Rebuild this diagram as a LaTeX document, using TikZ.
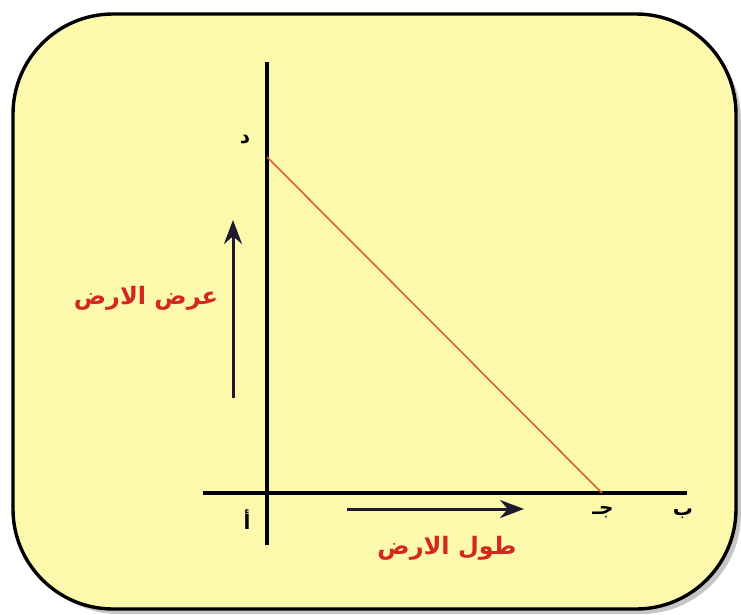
\documentclass[tikz,border=0pt]{standalone}
\usepackage{fontspec}
\usetikzlibrary{arrows.meta}
\newfontfamily\arabicfont[Script=Arabic]{DejaVu Sans}
\TeXXeTstate=1
\definecolor{boxfill}{RGB}{253,249,172}
\definecolor{lblred}{RGB}{212,40,30}
\definecolor{hyp}{RGB}{214,98,48}
\definecolor{arrowcol}{RGB}{30,25,45}
\tikzset{
  axis/.style={line width=3.4pt, black},
  hypline/.style={line width=1.6pt, hyp},
  dimarrow/.style={line width=3pt, arrowcol, -{Stealth[length=24pt,width=18pt]}},
  redlbl/.style={text=lblred, font=\arabicfont\bfseries\fontsize{24}{28}\selectfont, inner sep=0pt},
  ptlbl/.style={text=black, font=\arabicfont\bfseries\fontsize{20}{24}\selectfont, inner sep=0pt}
}
\begin{document}
\begin{tikzpicture}[x=1pt,y=-1pt]
\useasboundingbox (0,0) rectangle (741,614);
% shadow
\fill[gray!45, rounded corners=100pt] (19,20) rectangle (741,614);
% panel
\draw[line width=3.4pt, fill=boxfill, rounded corners=100pt] (13,14) rectangle (736,609);
% axes
\coordinate (vtop) at (267,62);
\coordinate (vbot) at (267,545);
\coordinate (hl) at (203,493);
\coordinate (hr) at (687,493);
\coordinate (dpt) at (267,157);
\coordinate (jpt) at (602,493);
\draw[axis] (vtop) -- (vbot);
\draw[axis] (hl) -- (hr);
\draw[hypline] (dpt) -- (jpt);
% dimension arrows
\coordinate (va0) at (233,398);
\coordinate (va1) at (233,220);
\draw[dimarrow] (va0) -- (va1);
\coordinate (ha0) at (347,509);
\coordinate (ha1) at (524,509);
\draw[dimarrow] (ha0) -- (ha1);
% labels
\node[redlbl] (width) at (146,298) {\beginR عرض الارض\endR};
\node[redlbl] (length) at (447,548) {\beginR طول الارض\endR};
\node[ptlbl] (la) at (247,520) {\beginR أ\endR};
\node[ptlbl] (lb) at (683,514) {\beginR ب\endR};
\node[ptlbl] (lj) at (603,512) {\beginR جـ\endR};
\node[ptlbl] (ld) at (245,140) {\beginR د\endR};
\end{tikzpicture}
\end{document}
